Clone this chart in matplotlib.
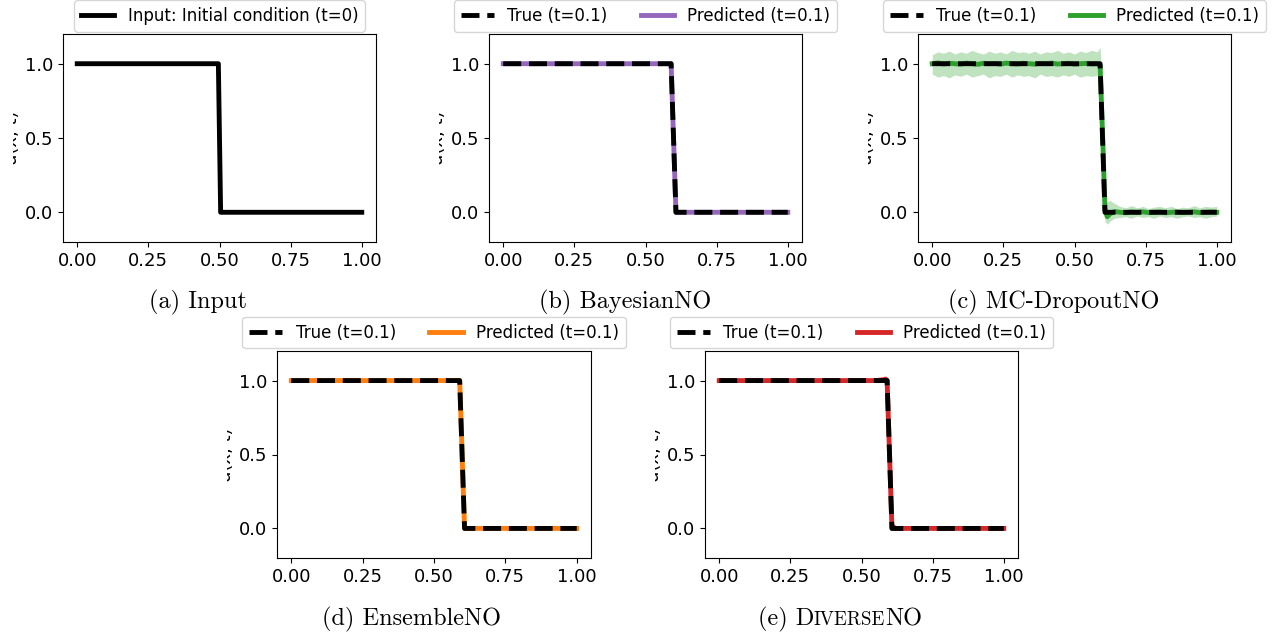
import matplotlib
matplotlib.use('Agg')
import matplotlib.pyplot as plt
from matplotlib.transforms import Bbox, TransformedBbox

# step profiles
input_x = [0.0, 0.496, 0.504, 1.0]
input_u = [1.0, 1.0, 0.0, 0.0]

true_x = [0.0, 0.59, 0.607, 1.0]
true_u = [1.0, 1.0, 0.0, 0.0]

bayes_x = [0.0, 0.59, 0.607, 1.0]
bayes_u = [1.0, 1.0, 0.0, 0.0]

ens_x = [0.0, 0.59, 0.607, 1.0]
ens_u = [1.0, 1.0, 0.0, 0.0]

div_x = [0.0, 0.55, 0.575, 0.585, 0.59, 0.607, 0.612, 0.62, 1.0]
div_u = [1.0, 1.0, 1.005, 1.01, 1.0, 0.0, 0.01, 0.0, 0.0]

mc_x = [0.00, 0.02, 0.04, 0.06, 0.08, 0.10, 0.12, 0.14, 0.16, 0.18,
        0.20, 0.22, 0.24, 0.26, 0.28, 0.30, 0.32, 0.34, 0.36, 0.38,
        0.40, 0.42, 0.44, 0.46, 0.48, 0.50, 0.52, 0.54, 0.56, 0.58,
        0.59, 0.60, 0.607, 0.615, 0.625, 0.64,
        0.66, 0.68, 0.70, 0.72, 0.74, 0.76, 0.78, 0.80, 0.82, 0.84,
        0.86, 0.88, 0.90, 0.92, 0.94, 0.96, 0.98, 1.00]
mc_mean = [1.0, 1.005, 0.998, 1.003, 1.0, 0.997, 1.004, 1.0, 0.996, 1.003,
           1.0, 1.002, 0.997, 1.004, 1.0, 0.998, 1.003, 1.0, 0.997, 1.002,
           1.0, 1.004, 0.998, 1.0, 1.003, 0.997, 1.0, 1.002, 0.999, 1.0,
           0.99, 0.45, 0.02, -0.03, -0.01, 0.005,
           0.0, -0.003, 0.002, 0.0, 0.003, -0.002, 0.0, 0.002, -0.003, 0.0,
           0.002, -0.002, 0.0, 0.003, -0.002, 0.0, 0.002, 0.0]
mc_upper = [1.06, 1.08, 1.07, 1.085, 1.065, 1.08, 1.07, 1.09, 1.075, 1.065,
            1.085, 1.07, 1.08, 1.065, 1.09, 1.075, 1.08, 1.07, 1.085, 1.065,
            1.08, 1.075, 1.09, 1.07, 1.08, 1.065, 1.085, 1.075, 1.09, 1.08,
            1.11, 0.7, 0.1, 0.07, 0.08, 0.06,
            0.04, 0.03, 0.045, 0.03, 0.04, 0.025, 0.035, 0.04, 0.03, 0.04,
            0.025, 0.035, 0.03, 0.045, 0.03, 0.04, 0.035, 0.04]
mc_lower = [0.93, 0.91, 0.92, 0.905, 0.925, 0.915, 0.93, 0.91, 0.92, 0.93,
            0.905, 0.92, 0.915, 0.93, 0.91, 0.925, 0.915, 0.92, 0.905, 0.93,
            0.915, 0.92, 0.91, 0.925, 0.915, 0.93, 0.91, 0.92, 0.915, 0.92,
            0.9, 0.25, -0.06, -0.08, -0.06, -0.04,
            -0.035, -0.03, -0.04, -0.025, -0.035, -0.03, -0.04, -0.025, -0.035, -0.03,
            -0.04, -0.03, -0.025, -0.035, -0.03, -0.04, -0.03, -0.025]

xticks = [0.0, 0.25, 0.5, 0.75, 1.0]
yticks = [0.0, 0.5, 1.0]

W, H = 1273, 634
fig = plt.figure(figsize=(W / 100, H / 100), dpi=100)

LW = 3.5


def make_ax(left, top, right, bottom):
    ax = fig.add_axes([left / W, 1 - bottom / H, (right - left) / W, (bottom - top) / H])
    ax.set_xlim(-0.05, 1.05)
    ax.set_ylim(-0.2, 1.2)
    ax.set_xticks(xticks)
    ax.set_yticks(yticks)
    ax.tick_params(labelsize=13)
    ax.set_ylabel('u(x, t)', fontsize=13)
    ax.yaxis.set_label_coords(-42 / (right - left), 0.5)
    # the label is cut off in the original (cropped subfigure)
    clip = TransformedBbox(Bbox([[(left - 50) / W, 0], [left / W, 1]]), fig.transFigure)
    ax.yaxis.label.set_clip_box(clip)
    ax.yaxis.label.set_clip_on(True)
    return ax


def add_legend(ax):
    h, l = ax.get_legend_handles_labels()
    ax.legend(h[::-1], l[::-1], loc='lower center', bbox_to_anchor=(0.5, 1.0),
              ncol=len(h), fontsize=12, borderaxespad=0.15)


# (a) input
ax = make_ax(63, 34, 376, 242)
ax.plot(input_x, input_u, color='black', lw=LW, label='Input: Initial condition (t=0)')
add_legend(ax)

# (b) BayesianNO
ax = make_ax(489, 34, 802, 242)
ax.plot(bayes_x, bayes_u, color='#9467bd', lw=LW, label='Predicted (t=0.1)')
ax.plot(true_x, true_u, color='black', lw=LW, ls='--', label='True (t=0.1)')
add_legend(ax)

# (c) MC-DropoutNO
ax = make_ax(918, 34, 1231, 242)
ax.fill_between(mc_x, mc_lower, mc_upper, color='#2ca02c', alpha=0.3, lw=0)
ax.plot(mc_x, mc_mean, color='#2ca02c', lw=LW, label='Predicted (t=0.1)')
ax.plot(true_x, true_u, color='black', lw=LW, ls='--', label='True (t=0.1)')
add_legend(ax)

# (d) EnsembleNO
ax = make_ax(277, 351, 591, 558)
ax.plot(ens_x, ens_u, color='#ff7f0e', lw=LW, label='Predicted (t=0.1)')
ax.plot(true_x, true_u, color='black', lw=LW, ls='--', label='True (t=0.1)')
add_legend(ax)

# (e) DiverseNO
ax = make_ax(705, 351, 1018, 558)
ax.plot(div_x, div_u, color='#d62728', lw=LW, label='Predicted (t=0.1)')
ax.plot(true_x, true_u, color='black', lw=LW, ls='--', label='True (t=0.1)')
add_legend(ax)

# captions
CAP = 17.5
cap_font = dict(family='cmr10', fontsize=CAP, ha='center', va='baseline')
fig.text(198 / W, 1 - 308 / H, '(a) Input', **cap_font)
fig.text(625 / W, 1 - 308 / H, '(b) BayesianNO', **cap_font)
fig.text(1054 / W, 1 - 308 / H, '(c) MC-DropoutNO', **cap_font)
fig.text(412 / W, 1 - 625 / H, '(d) EnsembleNO', **cap_font)

# small caps for "Diverse"
renderer = fig.canvas.get_renderer()
pieces = [('(e) D', CAP), ('IVERSE', CAP * 0.78), ('NO', CAP)]
texts = []
widths = []
for s, size in pieces:
    t = fig.text(0, 1 - 625 / H, s, family='cmr10', fontsize=size, ha='left', va='baseline')
    texts.append(t)
    widths.append(t.get_window_extent(renderer).width)
x = 840 - sum(widths) / 2
for t, w in zip(texts, widths):
    t.set_x(x / W)
    x += w

fig.savefig('out.png', dpi=100)
